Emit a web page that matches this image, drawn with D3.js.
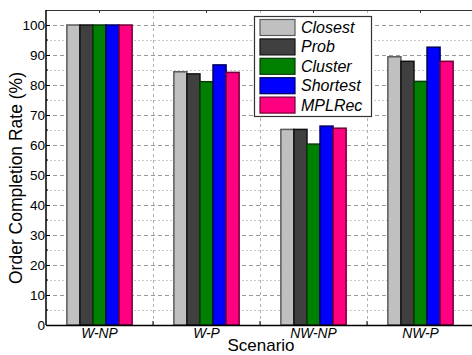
<!DOCTYPE html>
<html>
<head>
<meta charset="utf-8">
<script src="https://cdn.jsdelivr.net/npm/d3@7"></script>
<style>
  body { margin: 0; background: #fff; }
  svg text { font-family: "Liberation Sans", Arial, sans-serif; }
</style>
</head>
<body>
<div id="chart"></div>
<script>
// scenarios on the x axis
const scenarios = ["W-NP", "W-P", "NW-NP", "NW-P"];
// methods (series)
const methods = ["Closest", "Prob", "Cluster", "Shortest", "MPLRec"];
// values per method, in the order of scenarios
const closest  = [100, 84.4, 65.2, 89.4];
const prob     = [100, 83.7, 65.2, 87.9];
const cluster  = [100, 81.1, 60.3, 81.2];
const shortest = [100, 86.7, 66.3, 92.6];
const mplrec   = [100, 84.2, 65.6, 87.9];
const yTicks = [0, 10, 20, 30, 40, 50, 60, 70, 80, 90, 100];

const fills   = ["#c0c0c0", "#404040", "#008000", "#0000ff", "#ff0080"];
const strokes = ["#5a5a5a", "#111111", "#0a3a0a", "#000060", "#700035"];

const series = [closest, prob, cluster, shortest, mplrec];

const W = 472, H = 355;
const margin = { top: 10, right: -2, bottom: 30, left: 46 };
const width = W - margin.left - margin.right,
      height = H - margin.top - margin.bottom;

const svg = d3.select("#chart").append("svg")
  .attr("width", W).attr("height", H);

const g = svg.append("g")
  .attr("transform", "translate(" + margin.left + "," + margin.top + ")");

const x = d3.scaleBand().domain(scenarios).range([0, width]).padding(0);
const xInner = d3.scaleBand().domain(methods).range([0, x.bandwidth() * 0.61])
  .padding(0);
const y = d3.scaleLinear().domain([0, 105]).range([height, 0]);

// minor grid (every 5)
g.append("g").selectAll("line")
  .data(d3.range(5, 105, 10))
  .enter().append("line")
  .attr("x1", 0).attr("x2", width)
  .attr("y1", d => Math.round(y(d)) + 0.5).attr("y2", d => Math.round(y(d)) + 0.5)
  .attr("stroke", "#c8c8c8").attr("stroke-width", 1)
  .attr("stroke-dasharray", "2,2");

// major grid
g.append("g").selectAll("line")
  .data(yTicks.slice(1))
  .enter().append("line")
  .attr("x1", 0).attr("x2", width)
  .attr("y1", d => Math.round(y(d)) + 0.5).attr("y2", d => Math.round(y(d)) + 0.5)
  .attr("stroke", "#9a9a9a").attr("stroke-width", 1)
  .attr("stroke-dasharray", "4,3");

// vertical grid at group boundaries
g.append("g").selectAll("line")
  .data(scenarios.slice(1))
  .enter().append("line")
  .attr("x1", d => Math.round(x(d)) + 0.5).attr("x2", d => Math.round(x(d)) + 0.5)
  .attr("y1", 0).attr("y2", height)
  .attr("stroke", "#b0b0b0").attr("stroke-width", 1)
  .attr("stroke-dasharray", "3,3");

// bars
const groups = g.selectAll(".grp")
  .data(scenarios)
  .enter().append("g")
  .attr("class", "grp")
  .attr("transform", d => "translate(" + (x(d) + (x.bandwidth() - xInner.range()[1]) / 2) + ",0)");

groups.selectAll("rect")
  .data((d, i) => methods.map((m, j) => ({ m: m, j: j, v: series[j][i] })))
  .enter().append("rect")
  .attr("x", d => xInner(d.m))
  .attr("y", d => y(d.v))
  .attr("width", xInner.bandwidth())
  .attr("height", d => height - y(d.v))
  .attr("fill", d => fills[d.j])
  .attr("stroke", d => strokes[d.j])
  .attr("stroke-width", 1.5);

// frame
g.append("line").attr("x1", 0).attr("x2", width).attr("y1", 0.5).attr("y2", 0.5)
  .attr("stroke", "#333").attr("stroke-width", 1.2);

// top ticks at category centres
g.append("g").selectAll("line")
  .data(scenarios).enter().append("line")
  .attr("x1", d => x(d) + x.bandwidth() / 2).attr("x2", d => x(d) + x.bandwidth() / 2)
  .attr("y1", 0).attr("y2", 3).attr("stroke", "#333");

// y axis
const yAxis = d3.axisLeft(y).tickValues(yTicks).tickSize(4).tickPadding(1);
const ya = g.append("g").call(yAxis).attr("font-family", null);
ya.select(".domain").attr("stroke", "#000").attr("stroke-width", 1.5)
  .attr("d", "M0," + height + "V0");
ya.selectAll(".tick line").attr("stroke", "#000").attr("x2", 4).attr("x1", 0);
ya.selectAll(".tick text").attr("font-size", 13.5).attr("fill", "#000").attr("x", -1);

// y minor ticks
g.append("g").selectAll("line")
  .data(d3.range(5, 105, 10)).enter().append("line")
  .attr("x1", 0).attr("x2", 2)
  .attr("y1", d => y(d)).attr("y2", d => y(d)).attr("stroke", "#000");

// x axis
const xAxis = d3.axisBottom(x).tickSize(0).tickPadding(3);
const xa = g.append("g").attr("transform", "translate(0," + height + ")").call(xAxis)
  .attr("font-family", null);
xa.select(".domain").attr("stroke", "#000").attr("stroke-width", 1.5);
xa.selectAll(".tick text").attr("font-size", 13.8).attr("font-style", "italic").attr("fill", "#000");

// x ticks at group boundaries
g.append("g").selectAll("line")
  .data(scenarios.slice(1)).enter().append("line")
  .attr("x1", d => x(d)).attr("x2", d => x(d))
  .attr("y1", height).attr("y2", height - 4).attr("stroke", "#000");

// axis titles
svg.append("text")
  .attr("transform", "translate(22," + 178 + ") rotate(-90)")
  .attr("text-anchor", "middle")
  .attr("font-size", 17.5)
  .text("Order Completion Rate (%)");

svg.append("text")
  .attr("x", 261).attr("y", 351)
  .attr("text-anchor", "middle")
  .attr("font-size", 17)
  .text("Scenario");

// legend
const legend = svg.append("g").attr("transform", "translate(254,16)");
legend.append("rect")
  .attr("x", 0.5).attr("y", 0.5).attr("width", 117).attr("height", 100)
  .attr("fill", "#fff").attr("stroke", "#333").attr("stroke-width", 1.2);

const items = legend.selectAll(".item")
  .data(methods).enter().append("g")
  .attr("transform", (d, i) => "translate(6," + (3.5 + i * 19.4) + ")");

items.append("rect")
  .attr("width", 35).attr("height", 16)
  .attr("fill", (d, i) => fills[i])
  .attr("stroke", (d, i) => strokes[i]).attr("stroke-width", 1.2);

items.append("text")
  .attr("x", 41).attr("y", 13.5)
  .attr("font-size", 16).attr("font-style", "italic")
  .text(d => d);
</script>
</body>
</html>
